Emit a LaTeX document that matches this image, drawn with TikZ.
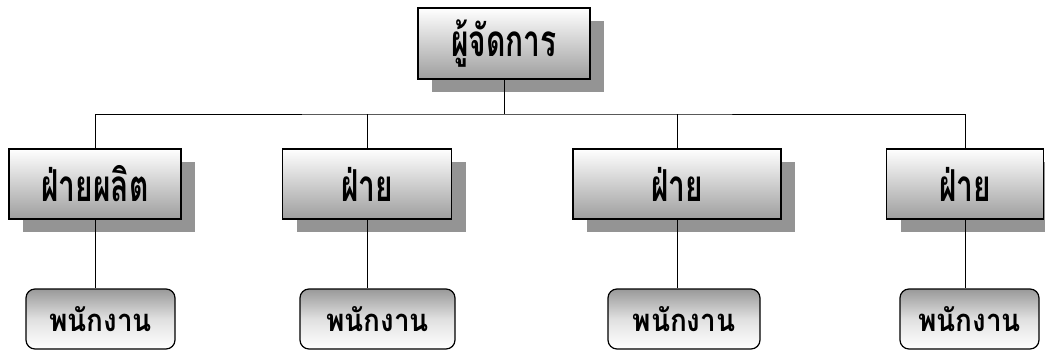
\documentclass[tikz,border=0pt]{standalone}
\usepackage{fontspec}
\newfontfamily\thaitall[Script=Thai,FakeStretch=0.68]{Loma}
\newfontfamily\thaifont[Script=Thai,FakeStretch=0.9]{Loma}
\usetikzlibrary{shadows}

\tikzset{
    chief/.style={draw, line width=1.2pt, rectangle, minimum width=172pt, minimum height=71pt,
        top color=white, bottom color=black!38,
        drop shadow={shadow xshift=14pt, shadow yshift=-13pt, fill=black!42, opacity=1},
        font=\thaitall\bfseries\fontsize{44}{50}\selectfont},
    dept/.style={chief, minimum height=70pt},
    staff/.style={draw, line width=1.2pt, rectangle, rounded corners=9pt, minimum height=60pt,
        top color=black!40, bottom color=white, middle color=black!12,
        font=\thaifont\bfseries\fontsize{31}{36}\selectfont},
    link/.style={line width=0.8pt}
}

\begin{document}
\begin{tikzpicture}[x=1pt, y=-1pt]
    \useasboundingbox (0,0) rectangle (1045,361);
    \node [chief] (boss) at (504,43.5) {ผู้จัดการ};
    \node [dept, minimum width=172pt] (d1) at (95,184) {ฝ่ายผลิต};
    \node [dept, minimum width=169pt] (d2) at (367,184) {ฝ่าย};
    \node [dept, minimum width=208pt] (d3) at (677,184) {ฝ่าย};
    \node [dept, minimum width=157pt] (d4) at (965,184) {ฝ่าย};
    \node [staff, minimum width=149pt] (s1) at (100.5,319) {พนักงาน};
    \node [staff, minimum width=155pt] (s2) at (377.5,319) {พนักงาน};
    \node [staff, minimum width=152pt] (s3) at (684,319) {พนักงาน};
    \node [staff, minimum width=139pt] (s4) at (969.5,319) {พนักงาน};
    \coordinate (bus) at (504,114);
    \draw [link] (boss.south) -- (bus);
    \draw [link] (d1.north) |- (bus) -| (d4.north);
    \draw [link] (d2.north) -- (d2.north |- bus);
    \draw [link] (d3.north) -- (d3.north |- bus);
    \draw [link] (d1.south) -- (d1.south |- s1.north);
    \draw [link] (d2.south) -- (d2.south |- s2.north);
    \draw [link] (d3.south) -- (d3.south |- s3.north);
    \draw [link] (d4.south) -- (d4.south |- s4.north);
\end{tikzpicture}
\end{document}
